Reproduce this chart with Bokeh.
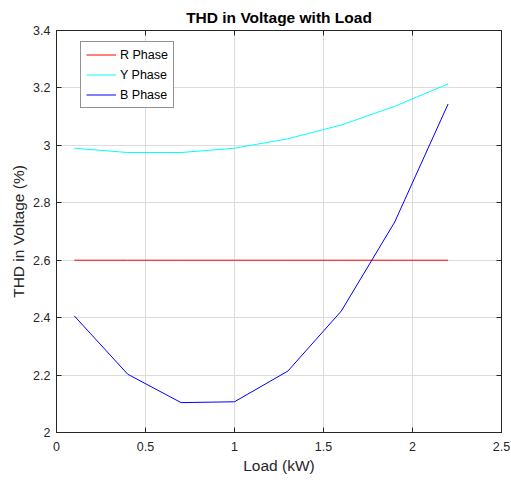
from bokeh.plotting import figure
from bokeh.models import Range1d, LinearAxis, FixedTicker, Legend, LegendItem, CustomJSTickFormatter
from bokeh.embed import file_html
from bokeh.resources import INLINE

load_kw = [0.1, 0.4, 0.7, 1.0, 1.3, 1.6, 1.9, 2.2]
r_phase = [2.6, 2.6, 2.6, 2.6, 2.6, 2.6, 2.6, 2.6]
y_phase = [2.99, 2.975, 2.975, 2.99, 3.023, 3.071, 3.136, 3.214]
b_phase = [2.406, 2.203, 2.104, 2.107, 2.214, 2.423, 2.733, 3.144]
x_ticks = [0, 0.5, 1, 1.5, 2, 2.5]
y_ticks = [2, 2.2, 2.4, 2.6, 2.8, 3, 3.2, 3.4]
series_names = ["R Phase", "Y Phase", "B Phase"]

FONT = "Liberation Sans"
DARK = "#262626"

p = figure(width=511, height=484, output_backend="svg", toolbar_location=None,
           x_range=Range1d(0, 2.5), y_range=Range1d(2, 3.4),
           min_border_left=56, min_border_right=10, min_border_top=30, min_border_bottom=52)

p.title.text = "THD in Voltage with Load"
p.title.align = "center"
p.title.text_font = FONT
p.title.text_font_size = "15.5px"
p.title.text_font_style = "bold"
p.title.text_color = "#000000"
p.title.standoff = 9

p.outline_line_color = DARK
p.outline_line_width = 1
p.outline_line_alpha = 1

for ax, ticks in ((p.xaxis[0], x_ticks), (p.yaxis[0], y_ticks)):
    ax.ticker = FixedTicker(ticks=ticks)
    ax.major_tick_in = 5
    ax.major_tick_out = 0
    ax.minor_tick_line_color = None
    ax.axis_line_color = DARK
    ax.major_tick_line_color = DARK
    ax.major_label_text_font = FONT
    ax.major_label_text_font_size = "12.5px"
    ax.major_label_text_color = DARK
    ax.axis_label_text_font = FONT
    ax.axis_label_text_font_size = "15.5px"
    ax.axis_label_text_font_style = "normal"
    ax.axis_label_text_color = DARK

p.xaxis[0].axis_label = "Load (kW)"
p.xaxis[0].major_label_standoff = 9
p.xaxis[0].axis_label_standoff = 3
p.yaxis[0].axis_label = "THD in Voltage (%)"
p.yaxis[0].major_label_standoff = 6
p.yaxis[0].axis_label_standoff = 3

blank = CustomJSTickFormatter(code="return '';")
for loc, ticks in (("right", y_ticks), ("above", x_ticks)):
    ax = LinearAxis(ticker=FixedTicker(ticks=ticks), formatter=blank)
    ax.major_tick_in = 5
    ax.major_tick_out = 0
    ax.minor_tick_line_color = None
    ax.axis_line_color = DARK
    ax.major_tick_line_color = DARK
    ax.major_label_standoff = 0
    p.add_layout(ax, loc)

p.xgrid.ticker = FixedTicker(ticks=x_ticks)
p.ygrid.ticker = FixedTicker(ticks=y_ticks)
p.grid.grid_line_color = "#dcdcdc"
p.grid.grid_line_width = 1

r1 = p.line(load_kw, r_phase, line_color="#ff0000", line_width=1)
r2 = p.line(load_kw, y_phase, line_color="#00ffff", line_width=1)
r3 = p.line(load_kw, b_phase, line_color="#0000ff", line_width=1)

legend = Legend(items=[LegendItem(label=series_names[0], renderers=[r1]),
                       LegendItem(label=series_names[1], renderers=[r2]),
                       LegendItem(label=series_names[2], renderers=[r3])],
                location=(24, 324))
legend.label_text_font = FONT
legend.label_text_font_size = "12.5px"
legend.label_text_color = "#000000"
legend.glyph_width = 30
legend.glyph_height = 15
legend.label_height = 15
legend.label_standoff = 4
legend.spacing = 5
legend.padding = 5
legend.margin = 0
legend.border_line_color = DARK
legend.border_line_width = 1
legend.background_fill_color = "white"
legend.background_fill_alpha = 1
p.add_layout(legend, "center")

open("out.html", "w").write(file_html(p, INLINE))
